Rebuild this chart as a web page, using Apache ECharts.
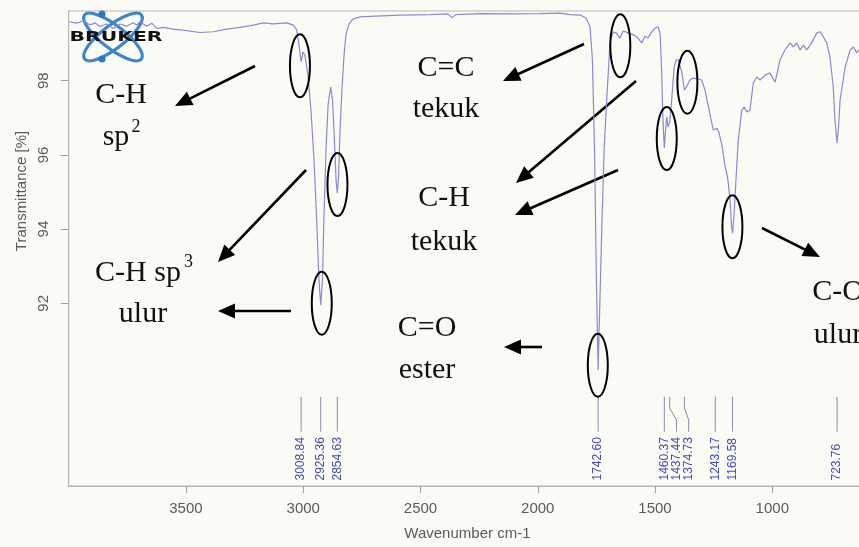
<!DOCTYPE html>
<html>
<head>
<meta charset="utf-8">
<title>FTIR spectrum</title>
<script src="https://cdn.jsdelivr.net/npm/echarts@6/dist/echarts.min.js"></script>
<style>
  html, body { margin: 0; padding: 0; background: #fbfbf6; }
  #chart { width: 859px; height: 547px; }
</style>
</head>
<body>
<div id="chart"></div>
<script>
// FTIR spectrum: wavenumber (cm-1) and transmittance (%)
const wavenumbers = [
  3997, 3966, 3938, 3909, 3888, 3867, 3838, 3810, 3781, 3753, 3725, 3710, 3696, 3668, 3646, 3625,
  3597, 3554, 3497, 3440, 3384, 3326, 3270, 3213, 3170, 3128, 3071, 3042, 3028, 3018, 3008.84, 3001,
  2993, 2980, 2967, 2954, 2941, 2933, 2925.36, 2918, 2912, 2903, 2894, 2883, 2875, 2867, 2860, 2854.63,
  2849, 2843, 2835, 2826, 2818, 2805, 2788, 2758, 2694, 2587, 2460, 2383, 2366, 2349, 2246, 2118,
  1990, 1905, 1862, 1820, 1794, 1777, 1767, 1758, 1750, 1742.60, 1735, 1726, 1717, 1706, 1692, 1679,
  1666, 1649, 1636, 1615, 1590, 1573, 1557, 1543, 1530, 1517, 1500, 1487, 1478, 1472, 1466, 1460.37,
  1455, 1450, 1444, 1437.44, 1429, 1419, 1410, 1401, 1386, 1374.73, 1364, 1351, 1338, 1321, 1301, 1287,
  1274, 1261, 1251, 1243.17, 1236, 1227, 1215, 1202, 1189, 1180, 1174, 1169.58, 1163, 1155, 1145, 1130,
  1120, 1109, 1095, 1081, 1066, 1052, 1031, 1010, 988, 967, 946, 924, 910, 896, 881, 867,
  853, 832, 810, 796, 782, 768, 754, 740, 733, 723.76, 717, 711, 689, 668, 654, 640,
  630, 604
];
const transmittance = [
  99.59, 99.55, 99.62, 99.50, 99.56, 99.46, 99.53, 99.41, 99.53, 99.47, 99.56, 99.50, 99.59, 99.47, 99.55, 99.41,
  99.44, 99.39, 99.35, 99.30, 99.32, 99.39, 99.44, 99.50, 99.56, 99.53, 99.56, 99.50, 99.37, 98.96, 98.51, 98.77,
  98.69, 98.15, 97.21, 95.86, 93.98, 92.63, 91.95, 92.63, 94.25, 96.13, 97.35, 97.83, 97.48, 96.40, 95.32, 94.97,
  95.46, 96.67, 97.75, 98.69, 99.23, 99.53, 99.66, 99.72, 99.74, 99.77, 99.78, 99.80, 99.70, 99.78, 99.81, 99.80,
  99.81, 99.82, 99.78, 99.77, 99.69, 99.45, 98.56, 96.13, 92.63, 90.20, 92.09, 94.25, 96.13, 97.48, 99.02, 99.31,
  99.29, 99.15, 99.34, 99.29, 99.23, 99.15, 99.02, 99.20, 99.15, 99.29, 99.42, 99.45, 99.26, 98.29, 96.94, 96.19,
  96.67, 97.02, 96.75, 96.89, 97.48, 98.34, 98.56, 98.56, 98.23, 97.75, 97.86, 98.02, 98.07, 98.05, 98.02, 97.75,
  97.35, 96.94, 96.67, 96.62, 96.72, 96.59, 96.27, 95.73, 95.32, 94.78, 94.11, 93.89, 94.38, 95.32, 96.40, 97.21,
  97.29, 97.16, 97.21, 97.94, 98.10, 98.02, 98.15, 98.21, 97.96, 98.56, 98.83, 99.02, 98.91, 99.02, 98.83, 98.96,
  98.83, 99.02, 99.29, 99.32, 99.18, 99.02, 98.64, 97.83, 96.94, 96.32, 96.80, 97.48, 98.37, 98.83, 98.91, 98.75,
  98.83, 98.96
];

// Picked peaks (cm-1)
const peakPositions = [3008.84, 2925.36, 2854.63, 1742.60, 1460.37, 1437.44, 1374.73, 1243.17, 1169.58, 723.76];

// Bands circled in the annotation: [wavenumber, transmittance] at the centre of each ring
const circledBands = [
  [3014, 98.40], [2921, 92.00], [2854, 95.20], [1744, 90.33],
  [1648, 98.94], [1450, 96.44], [1362, 97.96], [1170, 94.06]
];

// Axis ticks
const xTicks = [3500, 3000, 2500, 2000, 1500, 1000];
const yTicks = [92, 94, 96, 98];

const spectrum = wavenumbers.map((w, i) => [w, transmittance[i]]);

const axisGrey = '#5a5a5a';
const frameGrey = '#b5b5b5';
const serif = '"Liberation Serif", "Times New Roman", serif';
const sans = '"Liberation Sans", Arial, sans-serif';

// Horizontal label slots so that close peaks keep readable labels
function peakLabelXs(api) {
  const out = [];
  let prev = -Infinity;
  peakPositions.forEach(function (w) {
    const x = api.coord([w, 95])[0];
    const lx = Math.max(x, prev + 12.2);
    out.push(lx);
    prev = lx;
  });
  return out;
}

function arrow(x1, y1, x2, y2) {
  const len = Math.hypot(x2 - x1, y2 - y1);
  const ux = (x2 - x1) / len, uy = (y2 - y1) / len;
  const head = 17, half = 7.5;
  const bx = x2 - ux * head, by = y2 - uy * head;
  return [
    { type: 'line', shape: { x1: x1, y1: y1, x2: bx + ux * 2, y2: by + uy * 2 },
      style: { stroke: '#000', lineWidth: 2.6 } },
    { type: 'polygon',
      shape: { points: [[x2, y2], [bx - uy * half, by + ux * half], [bx + uy * half, by - ux * half]] },
      style: { fill: '#000' } }
  ];
}

function note(text, x, y, size) {
  return { type: 'text', x: x, y: y,
    style: { text: text, font: (size || 30) + 'px ' + serif, fill: '#111', align: 'center', verticalAlign: 'middle' } };
}

const annotations = [].concat(
  note('C-H', 121, 95), note('sp', 116, 137), note('2', 136, 127.5, 18),
  note('C-H sp', 138, 273), note('3', 188.5, 262.5, 18), note('ulur', 143, 314),
  note('C=C', 446, 68), note('tekuk', 446, 109),
  note('C-H', 444, 198), note('tekuk', 444, 242),
  note('C=O', 427, 328), note('ester', 427, 370),
  note('C-O', 838, 292), note('ulur', 838, 335),
  arrow(255, 66, 175, 106),
  arrow(306, 170, 218, 262),
  arrow(291, 311, 218, 311),
  arrow(584, 44, 503, 81),
  arrow(636, 81, 516, 183),
  arrow(618, 170, 515, 215),
  arrow(542, 347, 504, 347),
  arrow(762, 228, 820, 257)
);

// Instrument logo in the top-left corner of the plot
const logo = [
  { type: 'ellipse', x: 113, y: 37, rotation: 0.66, shape: { cx: 0, cy: 0, rx: 36, ry: 11.5 },
    style: { stroke: '#3c86c8', lineWidth: 3.2, fill: null } },
  { type: 'ellipse', x: 113, y: 37, rotation: -0.66, shape: { cx: 0, cy: 0, rx: 36, ry: 11.5 },
    style: { stroke: '#3c86c8', lineWidth: 3.2, fill: null } },
  { type: 'circle', shape: { cx: 102, cy: 14, r: 3.5 }, style: { fill: '#2f78bd' } },
  { type: 'circle', shape: { cx: 102, cy: 59, r: 3.5 }, style: { fill: '#2f78bd' } },
  { type: 'text', x: 116, y: 37, scaleX: 1.4,
    style: { text: 'BRUKER', font: 'bold 14.5px "DejaVu Sans", sans-serif', fill: '#111', align: 'center', verticalAlign: 'middle' } }
];

const yTitle = { type: 'text', x: 22, y: 191, rotation: Math.PI / 2,
  style: { text: 'Transmittance [%]', font: '15px ' + sans, fill: axisGrey, align: 'center', verticalAlign: 'middle' } };

const chart = echarts.init(document.getElementById('chart'), null, { renderer: 'canvas' });

chart.setOption({
  backgroundColor: '#fbfbf6',
  animation: false,
  grid: {
    left: 68.7, right: -7.1, top: 11, bottom: 61,
    show: true, borderColor: frameGrey, borderWidth: 1, backgroundColor: 'transparent',
    containLabel: false, outerBoundsMode: 'none'
  },
  xAxis: {
    type: 'value', inverse: true, min: 600, max: 4000,
    name: 'Wavenumber cm-1', nameLocation: 'middle', nameGap: 40,
    nameTextStyle: { color: axisGrey, fontSize: 15, fontFamily: sans },
    axisLine: { show: true, lineStyle: { color: frameGrey } },
    axisTick: { show: true, length: 7, lineStyle: { color: '#a0a0a0' }, customValues: xTicks },
    axisLabel: { color: axisGrey, fontSize: 15, fontFamily: sans, margin: 15, customValues: xTicks,
      formatter: function (v) { return String(v); } },
    splitLine: { show: false }
  },
  yAxis: {
    type: 'value', min: 87.075, max: 99.879,
    axisLine: { show: true, lineStyle: { color: frameGrey } },
    axisTick: { show: true, length: 8, lineStyle: { color: '#a0a0a0' }, customValues: yTicks },
    axisLabel: { color: axisGrey, fontSize: 15, fontFamily: sans, rotate: 90, margin: 17, customValues: yTicks,
      formatter: function (v) { return String(v); } },
    splitLine: { show: false }
  },
  graphic: { elements: logo.concat([yTitle]).concat(annotations) },
  series: [
    {
      type: 'line', data: spectrum, showSymbol: false, smooth: false, clip: true,
      lineStyle: { color: '#8a8ad2', width: 1.2 }, z: 3
    },
    {
      type: 'custom', data: peakPositions.map(function (w) { return [w]; }),
      encode: { x: 0 }, clip: false, z: 4,
      renderItem: function (params, api) {
        const cs = params.coordSys;
        const base = cs.y + cs.height;
        const w = api.value(0);
        const x = api.coord([w, 95])[0];
        const lx = peakLabelXs(api)[params.dataIndex];
        const top = base - 89.3, bendA = base - 78, bendB = base - 66, bottom = base - 54.3;
        const pts = Math.abs(lx - x) < 0.5
          ? [[x, top], [x, bottom]]
          : [[x, top], [x, bendA], [lx, bendB], [lx, bottom]];
        return {
          type: 'group',
          children: [
            { type: 'polyline', shape: { points: pts }, style: { stroke: '#8c8ca6', lineWidth: 1, fill: null } },
            { type: 'text', x: lx, y: base - 5.5, rotation: Math.PI / 2,
              style: { text: w.toFixed(2), font: '12px ' + sans, fill: '#4848b4', align: 'left', verticalAlign: 'middle' } }
          ]
        };
      }
    },
    {
      type: 'custom', data: circledBands, encode: { x: 0, y: 1 }, clip: false, z: 5,
      renderItem: function (params, api) {
        const p = api.coord([api.value(0), api.value(1)]);
        return { type: 'ellipse', shape: { cx: p[0], cy: p[1], rx: 10, ry: 31.5 },
          style: { stroke: '#000', lineWidth: 2, fill: null } };
      }
    }
  ]
});
</script>
</body>
</html>
